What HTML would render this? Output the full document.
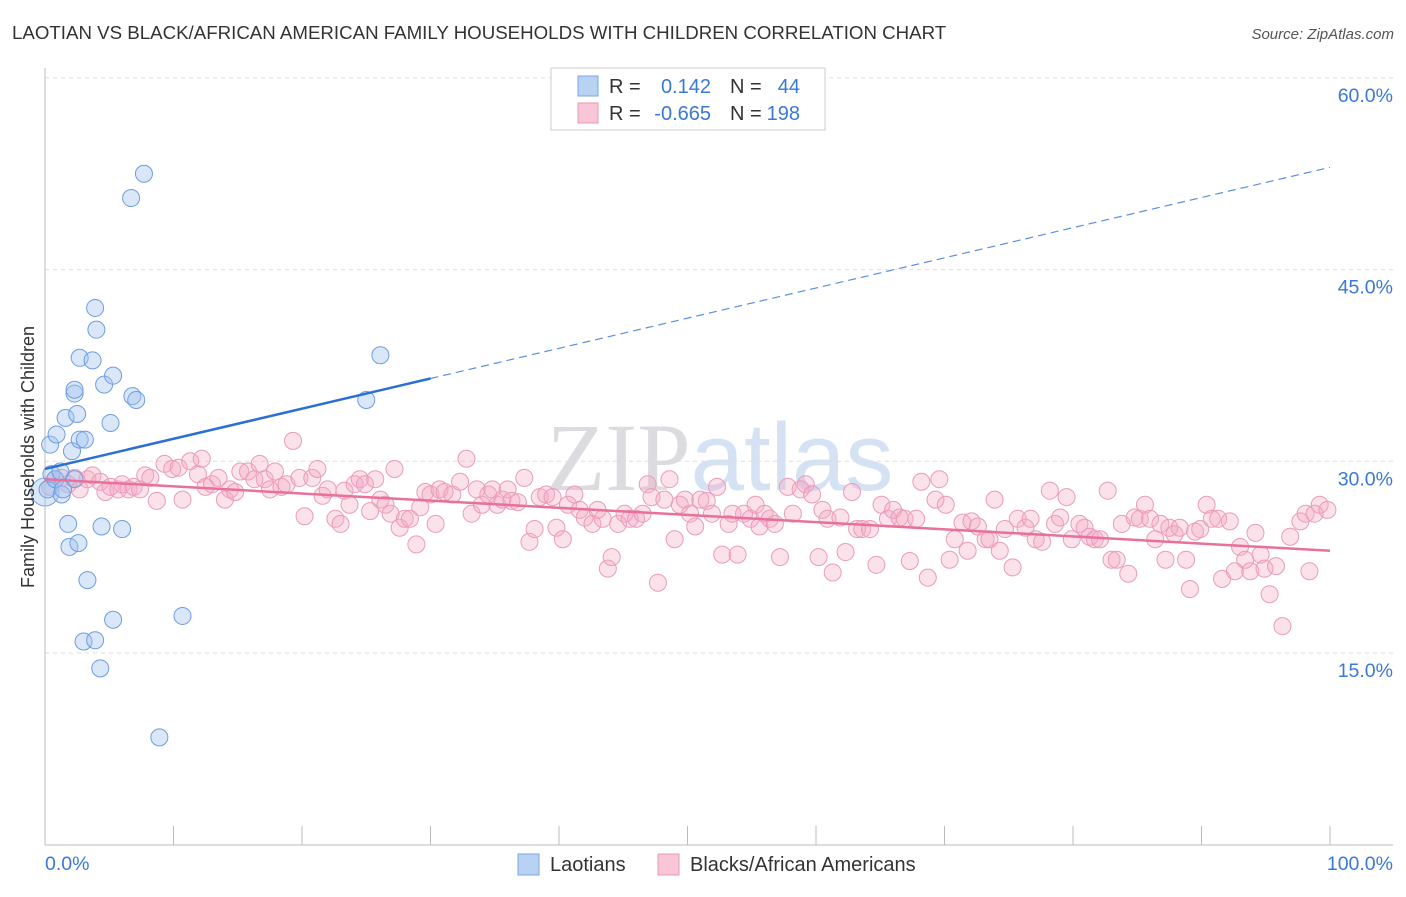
<!DOCTYPE html>
<html><head><meta charset="utf-8"><style>
body{margin:0;background:#fff;font-family:"Liberation Sans",sans-serif;}
</style></head><body>
<svg id="chart" width="1406" height="892" xmlns="http://www.w3.org/2000/svg" font-family="Liberation Sans, sans-serif">
<text x="12" y="39" font-size="18.7" fill="#333">LAOTIAN VS BLACK/AFRICAN AMERICAN FAMILY HOUSEHOLDS WITH CHILDREN CORRELATION CHART</text>
<text x="1394" y="39" font-size="15" fill="#555" text-anchor="end" font-style="italic">Source: ZipAtlas.com</text>
<text x="720" y="490" font-size="96" text-anchor="middle" fill="#e8e8ec"><tspan font-family="Liberation Serif, serif" fill="#dcdce0">ZIP</tspan><tspan fill="#d4e2f4">atlas</tspan></text>
<g id="grid"></g>
<g id="axes"></g>
<g id="marks"></g>
<text transform="translate(34,457) rotate(-90)" font-size="18" fill="#333" text-anchor="middle">Family Households with Children</text>
<g>
<rect x="551" y="68" width="274" height="62" fill="#fff" stroke="#ccc"/>
<rect x="578" y="76" width="20" height="20" fill="#b8d2f4" stroke="#7aa6e0"/>
<rect x="578" y="103" width="20" height="20" fill="#f8c6d6" stroke="#ea98b6"/>
<text x="609" y="93" font-size="20" fill="#333">R =</text>
<text x="711" y="93" font-size="20" fill="#3a78d8" text-anchor="end">0.142</text>
<text x="730" y="93" font-size="20" fill="#333">N =</text>
<text x="800" y="93" font-size="20" fill="#3a78d8" text-anchor="end">44</text>
<text x="609" y="120" font-size="20" fill="#333">R =</text>
<text x="711" y="120" font-size="20" fill="#3a78d8" text-anchor="end">-0.665</text>
<text x="730" y="120" font-size="20" fill="#333">N =</text>
<text x="800" y="120" font-size="20" fill="#3a78d8" text-anchor="end">198</text>
</g>
<g>
<rect x="518" y="854" width="21" height="21" fill="#b8d2f4" stroke="#7aa6e0"/>
<text x="550" y="871" font-size="20" fill="#333">Laotians</text>
<rect x="658" y="854" width="21" height="21" fill="#f8c6d6" stroke="#ea98b6"/>
<text x="690" y="871" font-size="20" fill="#333">Blacks/African Americans</text>
</g>
</svg>
<script>
const yTicks=[15,30,45,60];
const xTickLabels=["0.0%","100.0%"];
const blueX=[0.2,0.4,0.5,0.8,0.9,1.2,1.3,1.4,1.6,1.8,1.9,2.1,2.3,2.5,2.6,2.7,2.7,3.1,3.3,2.3,2.3,3.0,3.7,3.9,4.0,3.9,4.3,4.4,4.6,5.1,5.3,5.3,6.0,6.7,6.8,7.1,7.7,8.9,10.7,25.0,26.1];
const blueY=[27.8,31.3,29.0,28.6,32.1,29.2,27.4,27.8,33.4,25.1,23.3,30.8,28.6,33.7,23.6,38.1,31.7,31.7,20.7,35.3,35.6,15.9,37.9,42.0,40.3,16.0,13.8,24.9,36.0,33.0,36.7,17.6,24.7,50.6,35.1,34.8,52.5,8.4,17.9,34.8,38.3];
const pinkX=[0.4,0.8,1.3,1.8,2.3,2.7,3.3,3.7,4.3,4.7,5.1,5.7,6.0,6.5,6.9,7.4,7.8,8.2,8.7,9.3,9.9,10.4,10.7,11.3,11.9,12.2,12.5,13.0,13.5,14.0,14.4,14.8,15.2,15.8,16.3,16.7,17.1,17.5,17.9,18.4,18.8,19.3,19.8,20.2,20.8,21.2,21.6,22.0,22.6,23.0,23.3,23.7,24.1,24.5,24.9,25.3,25.7,26.1,26.5,26.9,27.2,27.6,28.0,28.4,28.9,29.2,29.6,30.0,30.4,30.7,31.1,31.7,32.3,32.8,33.2,33.6,34.0,34.5,34.8,35.2,35.6,36.0,36.3,36.8,37.3,37.7,38.1,38.5,39.0,39.5,39.8,40.3,40.7,41.2,41.6,42.0,42.6,43.0,43.4,43.8,44.1,44.6,45.1,45.5,46.0,46.5,46.9,47.2,47.7,48.2,48.6,49.0,49.4,49.8,50.2,50.6,51.0,51.5,51.9,52.3,52.7,53.2,53.5,53.9,54.4,54.9,55.3,55.6,56.0,56.4,56.8,57.2,57.8,58.2,58.8,59.2,59.7,60.2,60.5,60.9,61.3,61.9,62.3,62.8,63.2,63.6,64.2,64.7,65.1,65.6,66.0,66.5,66.9,67.3,67.8,68.2,68.7,69.3,69.6,70.1,70.4,70.8,71.4,71.8,72.1,72.6,73.2,73.5,73.9,74.3,74.7,75.3,75.7,76.3,76.7,77.1,77.6,78.2,78.6,79.0,79.5,79.9,80.5,80.9,81.3,81.7,82.1,82.7,83.0,83.4,83.8,84.3,84.8,85.2,85.6,86.0,86.4,86.8,87.2,87.5,87.9,88.3,88.8,89.1,89.5,89.9,90.4,90.8,91.3,91.6,92.2,92.6,93.0,93.4,93.8,94.2,94.6,94.9,95.3,95.8,96.3,96.9,97.7,98.1,98.4,98.8,99.2,99.8];
const pinkY=[28.0,28.6,28.7,28.2,28.7,27.8,28.6,28.9,28.4,27.6,28.0,27.8,28.2,27.8,28.0,27.8,28.9,28.7,26.9,29.8,29.4,29.5,27.0,30.0,29.0,30.2,28.0,28.2,28.7,27.0,27.8,27.6,29.2,29.2,28.6,29.8,28.6,27.8,29.2,28.0,28.2,31.6,28.7,25.7,28.7,29.4,27.3,27.8,25.5,25.1,27.7,26.6,28.2,28.6,28.2,26.1,28.6,27.0,26.6,25.9,29.4,24.8,25.5,25.5,23.5,26.4,27.6,27.4,25.1,27.8,27.6,27.4,28.4,30.2,25.9,27.8,26.6,27.4,27.8,26.6,27.0,27.8,26.9,26.8,28.7,23.7,24.7,27.2,27.4,27.2,24.8,23.9,26.6,27.4,26.2,25.6,25.1,26.2,25.5,21.6,22.5,25.1,25.9,25.5,25.5,25.9,28.2,27.2,20.5,27.0,28.6,23.9,26.6,27.0,25.9,24.9,27.0,26.9,25.9,28.0,22.7,25.1,25.9,22.7,25.9,25.5,26.6,24.9,25.9,25.5,25.1,22.5,28.0,25.9,27.8,28.2,27.4,22.5,26.2,25.5,21.3,25.6,22.9,27.6,24.7,24.7,24.7,21.9,26.6,25.5,26.2,25.6,25.5,22.2,25.5,28.4,20.9,27.0,28.6,26.6,22.3,23.9,25.2,23.0,25.3,24.9,23.9,23.9,27.0,23.0,24.7,21.7,25.5,24.8,25.5,23.9,23.7,27.7,25.1,25.6,27.2,23.9,25.1,24.8,24.1,23.9,23.9,27.7,22.3,22.3,25.1,21.2,25.6,25.5,26.6,25.5,23.9,25.1,22.3,24.8,24.3,24.8,22.3,20.0,24.5,24.7,26.6,25.5,25.5,20.8,25.3,21.4,23.3,22.3,21.4,24.4,22.7,21.6,19.6,21.8,17.1,24.1,25.3,25.9,21.4,25.9,26.6,26.2];
const blueTrend=[29.4,53.0]; // value at 0% and 100%
const pinkTrend=[28.6,23.0];
const blueSolidEnd=30;

const NS="http://www.w3.org/2000/svg";
const X0=45,X1=1330;
const sx=v=>X0+(X1-X0)*v/100;
const sy=v=>653-(v-15)*(191.7/15);
function mk(tag,attrs,parent){const e=document.createElementNS(NS,tag);for(const k in attrs)e.setAttribute(k,attrs[k]);parent.appendChild(e);return e;}
const grid=document.getElementById('grid'),axes=document.getElementById('axes'),marks=document.getElementById('marks');
yTicks.forEach(t=>{
 const l=mk('line',{x1:45,x2:1393,y1:sy(t),y2:sy(t),stroke:'#ddd','stroke-dasharray':'4,4'},grid);
 
 
 const tx=mk('text',{x:1393,y:sy(t)+24,'font-size':19.5,fill:'#3a78d8','text-anchor':'end'},axes);
 tx.textContent=t.toFixed(1)+'%';
 
 
});
const xa=mk('line',{x1:45,x2:1393,y1:845,y2:845,stroke:'#bbb'},axes);


const ya=mk('line',{x1:45,x2:45,y1:68,y2:845,stroke:'#bbb'},axes);


for(let i=0;i<=10;i++){
 const t=mk('line',{x1:sx(i*10),x2:sx(i*10),y1:826,y2:845,stroke:'#bbb'},axes);
 
 
}
[[0,'start',45],[100,'end',1393]].forEach((d,i)=>{
 const tx=mk('text',{x:d[2],y:870,'font-size':19.5,fill:'#3a78d8','text-anchor':d[1]},axes);
 tx.textContent=xTickLabels[i];
 
 
});
pinkX.forEach((x,i)=>{
 const c=mk('circle',{cx:sx(x),cy:sy(pinkY[i]),r:8.5,fill:'rgba(244,168,196,0.35)',stroke:'#eb9bb9','stroke-width':1},marks);
 
 
});
const big=mk('circle',{cx:sx(0),cy:sy(27.6),r:14,fill:'rgba(160,196,240,0.4)',stroke:'#7aa6e0'},marks);


blueX.forEach((x,i)=>{
 const c=mk('circle',{cx:sx(x),cy:sy(blueY[i]),r:8.5,fill:'rgba(160,196,240,0.4)',stroke:'#6e9de0','stroke-width':1},marks);
 
 
});
const bAt=x=>blueTrend[0]+(blueTrend[1]-blueTrend[0])*x/100;
const pAt=x=>pinkTrend[0]+(pinkTrend[1]-pinkTrend[0])*x/100;
const pl=mk('line',{x1:sx(0),y1:sy(pAt(0)),x2:sx(100),y2:sy(pAt(100)),stroke:'#e8709a','stroke-width':2.5},marks);


const bl=mk('line',{x1:sx(0),y1:sy(bAt(0)),x2:sx(blueSolidEnd),y2:sy(bAt(blueSolidEnd)),stroke:'#2a6fd6','stroke-width':2.5},marks);


const bd=mk('line',{x1:sx(blueSolidEnd),y1:sy(bAt(blueSolidEnd)),x2:sx(100),y2:sy(bAt(100)),stroke:'#5a90e0','stroke-width':1.2,'stroke-dasharray':'8,5'},marks);


</script>
</body></html>
